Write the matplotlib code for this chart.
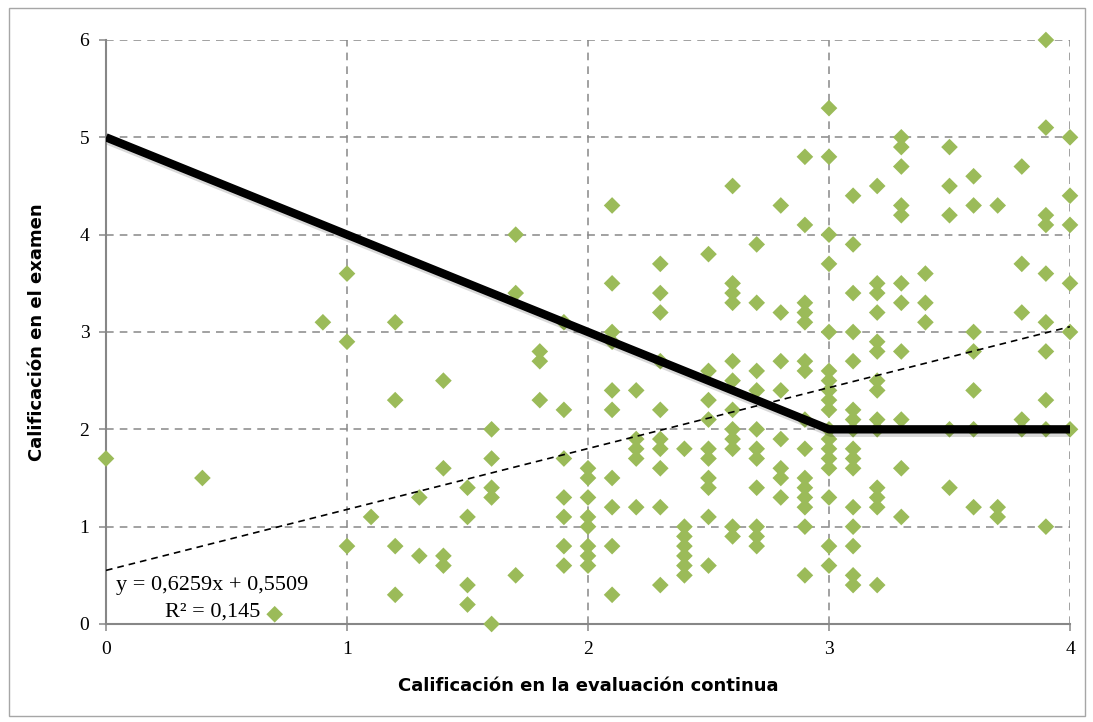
import numpy as np
import matplotlib.pyplot as plt
import matplotlib.patheffects as pe
from matplotlib.patches import Rectangle

# Scatter data: continuous evaluation grade (x) vs exam grade (y)
eval_continua = [
    0.0, 0.4, 0.7, 0.9,
    1.0, 1.0, 1.0, 1.1, 1.2, 1.2, 1.2, 1.2, 1.3, 1.3,
    1.4, 1.4, 1.4, 1.4, 1.5, 1.5, 1.5, 1.5,
    1.6, 1.6, 1.6, 1.6, 1.6, 1.7, 1.7, 1.7, 1.8, 1.8, 1.8,
    1.9, 1.9, 1.9, 1.9, 1.9, 1.9, 1.9,
    2.0, 2.0, 2.0, 2.0, 2.0, 2.0, 2.0, 2.0,
    2.1, 2.1, 2.1, 2.1, 2.1, 2.1, 2.1, 2.1, 2.1, 2.1,
    2.2, 2.2, 2.2, 2.2, 2.2,
    2.3, 2.3, 2.3, 2.3, 2.3, 2.3, 2.3, 2.3, 2.3, 2.3,
    2.4, 2.4, 2.4, 2.4, 2.4, 2.4, 2.4,
    2.5, 2.5, 2.5, 2.5, 2.5, 2.5, 2.5, 2.5, 2.5, 2.5,
    2.6, 2.6, 2.6, 2.6, 2.6, 2.6, 2.6, 2.6, 2.6, 2.6, 2.6, 2.6,
    2.7, 2.7, 2.7, 2.7, 2.7, 2.7, 2.7, 2.7, 2.7, 2.7, 2.7,
    2.8, 2.8, 2.8, 2.8, 2.8, 2.8, 2.8, 2.8,
    2.9, 2.9, 2.9, 2.9, 2.9, 2.9, 2.9, 2.9, 2.9, 2.9, 2.9, 2.9, 2.9, 2.9, 2.9,
    3.0, 3.0, 3.0, 3.0, 3.0, 3.0, 3.0, 3.0, 3.0, 3.0, 3.0, 3.0, 3.0, 3.0, 3.0, 3.0, 3.0, 3.0,
    3.1, 3.1, 3.1, 3.1, 3.1, 3.1, 3.1, 3.1, 3.1, 3.1, 3.1, 3.1, 3.1, 3.1, 3.1, 3.1,
    3.2, 3.2, 3.2, 3.2, 3.2, 3.2, 3.2, 3.2, 3.2, 3.2, 3.2, 3.2, 3.2, 3.2,
    3.3, 3.3, 3.3, 3.3, 3.3, 3.3, 3.3, 3.3, 3.3, 3.3, 3.3,
    3.4, 3.4, 3.4,
    3.5, 3.5, 3.5, 3.5, 3.5,
    3.6, 3.6, 3.6, 3.6, 3.6, 3.6, 3.6,
    3.7, 3.7, 3.7,
    3.8, 3.8, 3.8, 3.8, 3.8,
    3.9, 3.9, 3.9, 3.9, 3.9, 3.9, 3.9, 3.9, 3.9, 3.9,
    4.0, 4.0, 4.0, 4.0, 4.0, 4.0,
]
examen = [
    1.7, 1.5, 0.1, 3.1,
    3.6, 2.9, 0.8, 1.1, 3.1, 2.3, 0.8, 0.3, 1.3, 0.7,
    2.5, 1.6, 0.7, 0.6, 1.4, 1.1, 0.4, 0.2,
    2.0, 1.7, 1.4, 1.3, 0.0, 4.0, 3.4, 0.5, 2.8, 2.7, 2.3,
    3.1, 2.2, 1.7, 1.3, 1.1, 0.8, 0.6,
    1.6, 1.5, 1.3, 1.1, 1.0, 0.8, 0.7, 0.6,
    4.3, 3.5, 3.0, 2.9, 2.4, 2.2, 1.5, 1.2, 0.8, 0.3,
    2.4, 1.9, 1.8, 1.7, 1.2,
    3.7, 3.4, 3.2, 2.7, 2.2, 1.9, 1.8, 1.6, 1.2, 0.4,
    1.8, 1.0, 0.9, 0.8, 0.7, 0.6, 0.5,
    3.8, 2.6, 2.3, 2.1, 1.8, 1.7, 1.5, 1.4, 1.1, 0.6,
    4.5, 3.5, 3.4, 3.3, 2.7, 2.5, 2.2, 2.0, 1.9, 1.8, 1.0, 0.9,
    3.9, 3.3, 2.6, 2.4, 2.0, 1.8, 1.7, 1.4, 1.0, 0.9, 0.8,
    4.3, 3.2, 2.7, 2.4, 1.9, 1.6, 1.5, 1.3,
    4.8, 4.1, 3.3, 3.2, 3.1, 2.7, 2.6, 2.1, 1.8, 1.5, 1.4, 1.3, 1.2, 1.0, 0.5,
    5.3, 4.8, 4.0, 3.7, 3.0, 2.6, 2.5, 2.4, 2.3, 2.2, 2.0, 1.9, 1.8, 1.7, 1.6, 1.3, 0.8, 0.6,
    4.4, 3.9, 3.4, 3.0, 2.7, 2.2, 2.1, 2.0, 1.8, 1.7, 1.6, 1.2, 1.0, 0.8, 0.5, 0.4,
    4.5, 3.5, 3.4, 3.2, 2.9, 2.8, 2.5, 2.4, 2.1, 2.0, 1.4, 1.3, 1.2, 0.4,
    5.0, 4.9, 4.7, 4.3, 4.2, 3.5, 3.3, 2.8, 2.1, 1.6, 1.1,
    3.6, 3.3, 3.1,
    4.9, 4.5, 4.2, 2.0, 1.4,
    4.6, 4.3, 3.0, 2.8, 2.4, 2.0, 1.2,
    4.3, 1.2, 1.1,
    4.7, 3.7, 3.2, 2.1, 2.0,
    6.0, 5.1, 4.2, 4.1, 3.6, 3.1, 2.8, 2.3, 2.0, 1.0,
    5.0, 4.4, 4.1, 3.5, 3.0, 2.0,
]

# thick black reference line
ref_x = [0, 3, 4]
ref_y = [5, 2, 2]

# linear trendline (Excel)
slope = 0.6259
intercept = 0.5509
r2 = 0.145

x_ticks = [0, 1, 2, 3, 4]
y_ticks = [0, 1, 2, 3, 4, 5, 6]

fig = plt.figure(figsize=(10.93, 7.22), dpi=100)
ax = fig.add_axes([106 / 1093, 1 - 624 / 722, (1070 - 106) / 1093, (624 - 40) / 722])

# outer chart border
fig.patches.append(Rectangle((9 / 1093, 6 / 722), 1076 / 1093, 708 / 722,
                             transform=fig.transFigure, fill=False,
                             edgecolor='#a6a6a6', linewidth=1.0))

grid_color = '#878787'
ax.set_xlim(0, 4)
ax.set_ylim(0, 6)
ax.set_xticks(x_ticks)
ax.set_yticks(y_ticks)
ax.grid(True, color=grid_color, linestyle=(0, (5, 4)), linewidth=1.1)
ax.set_axisbelow(True)
for side in ['top', 'right']:
    ax.spines[side].set_visible(False)
for side in ['left', 'bottom']:
    ax.spines[side].set_color(grid_color)
    ax.spines[side].set_linewidth(1.5)
ax.tick_params(axis='both', direction='out', length=5, width=1.1, color=grid_color,
               labelsize=14, pad=7)
for lab in ax.get_xticklabels() + ax.get_yticklabels():
    lab.set_fontfamily('Liberation Serif')

ax.scatter(eval_continua, examen, marker='D', s=72, color='#9bbb59',
           edgecolors='none', zorder=3, clip_on=False)

xx = np.array([0, 4])
ax.plot(xx, slope * xx + intercept, color='black', linestyle=(0, (4, 3)),
        linewidth=1.2, zorder=4)

ax.plot(ref_x, ref_y, color='black', linewidth=6, solid_capstyle='butt', zorder=5,
        path_effects=[pe.SimpleLineShadow(offset=(1.5, -2.5), alpha=0.15, shadow_color='black'),
                      pe.Normal()])

ax.text(0.04, 0.40, 'y = 0,6259x + 0,5509', fontsize=16, fontfamily='Liberation Serif',
        va='center', ha='left', zorder=6)
ax.text(0.245, 0.12, 'R² = 0,145', fontsize=16, fontfamily='Liberation Serif',
        va='center', ha='left', zorder=6)

label_font = dict(fontsize=13, fontweight='bold',
                  fontfamily=['Liberation Sans Narrow', 'DejaVu Sans'])
ax.set_xlabel('Calificación en la evaluación continua', labelpad=14, **label_font)
ax.set_ylabel('Calificación en el examen', labelpad=24, **label_font)

plt.savefig('out.png', dpi=100)
